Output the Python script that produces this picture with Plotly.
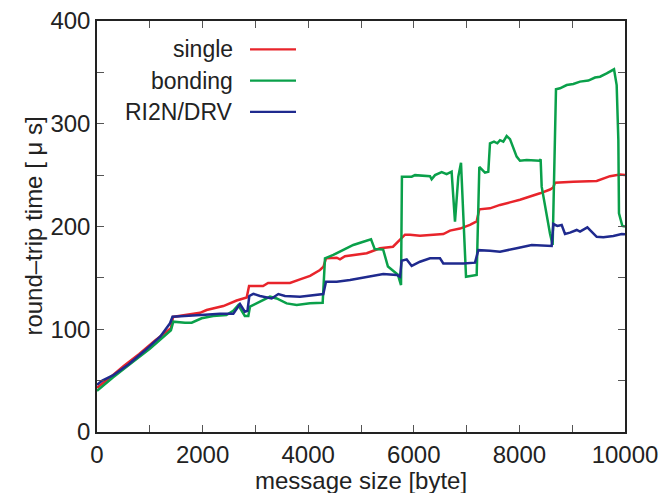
import plotly.graph_objects as go

# ---- data ----
single_x = [0, 200, 500, 800, 1100, 1400, 1440, 1700, 1950, 2076, 2392, 2645, 2835, 2880,
            3145, 3240, 3655, 3845, 4035, 4223, 4290, 4337, 4540, 4602, 4697, 5108, 5360,
            5606, 5739, 5833, 5928, 6117, 6559, 6686, 6875, 7064, 7191, 7241, 7443, 7633,
            7822, 8011, 8390, 8580, 8640, 8674, 9021, 9464, 9716, 9905, 10000]
single_y = [43, 51, 64, 76, 89, 101, 112, 114, 116, 118.7, 122.6, 128, 131, 142,
            142, 145, 145, 148.6, 152, 157.7, 161, 169, 169.6, 168, 171, 174, 178.8,
            180.3, 187, 192, 192, 191, 192.7, 196, 198, 201.5, 205, 216.7, 217.7, 221,
            223.5, 226, 232.3, 236, 238, 242.6, 243.6, 244.3, 249, 250.5, 250]

bonding_x = [0, 300, 700, 1000, 1400, 1445, 1667, 1793, 1982, 2200, 2450, 2580, 2675, 2800,
             2866, 2898, 3087, 3277, 3403, 3592, 3782, 4034, 4274, 4318, 4475, 4665, 4854,
             5044, 5190, 5260, 5420, 5510, 5640, 5700, 5758, 5775, 5801, 5960, 6023, 6307,
             6338, 6402, 6528, 6622, 6716, 6780, 6843, 6894, 6989, 7191, 7241, 7348, 7411,
             7443, 7519, 7582, 7633, 7695, 7759, 7822, 7948, 8011, 8138, 8377, 8402, 8422,
             8580, 8630, 8693, 8769, 8896, 9021, 9148, 9306, 9432, 9527, 9653, 9792, 9842,
             9874, 9886, 9950, 10000]
bonding_y = [40, 53, 69, 81, 99, 107.4, 106.4, 106.4, 110.7, 112.9, 113.9, 118, 123.6, 112.9,
             112.9, 122, 126.8, 131.7, 130, 125.2, 123.6, 125.2, 125.8, 169, 172.3, 177, 182,
             185.2, 187.5, 178, 177.5, 161, 156, 153, 143, 248.5, 248.5, 248.5, 250, 249,
             246, 250, 253, 251, 253.3, 204.7, 248.5, 262, 151, 152.8, 258, 252.4, 253.3,
             281, 282.6, 281, 284, 282.6, 288, 285, 268, 264, 264.7, 264, 265.4, 238.8,
             193, 182, 333.5, 334.5, 337.7, 338.7, 341, 342, 345, 345.8, 349, 353, 337.7,
             284, 212.8, 200.5, 200]

ri2n_x = [0, 100, 300, 600, 900, 1200, 1383, 1430, 2045, 2330, 2582, 2708, 2800, 2850, 2885,
          2960, 3087, 3308, 3434, 3560, 3845, 4097, 4286, 4337, 4540, 4792, 4981, 5233, 5422,
          5676, 5739, 5770, 5865, 5960, 6117, 6307, 6496, 6559, 6938, 7159, 7222, 7443, 7633,
          7948, 8233, 8611, 8643, 8718, 8801, 8864, 8958, 9085, 9148, 9287, 9464, 9590, 9779,
          9937, 10000]
ri2n_y = [46, 50, 55, 66, 79, 93, 105.8, 112.2, 114, 115, 115, 124.5, 117, 118, 132.4,
          134.5, 132.4, 130, 134.3, 132.4, 131.7, 133.3, 134.3, 146.3, 146.3, 148, 149.6, 151.8, 153.8,
          152.8, 151, 166.7, 168, 161.6, 165.7, 169, 169, 164, 164, 164.8, 177, 176.5, 175.5,
          178.8, 182, 181, 202.4, 200.5, 201.5, 192.7, 194, 196.6, 195, 199.2, 190, 189.5, 190.8,
          192.7, 192.5]

series_names = ["single", "bonding", "RI2N/DRV"]
series_colors = ["#e8242b", "#0aa04a", "#1f2a8e"]
series_x = [single_x, bonding_x, ri2n_x]
series_y = [single_y, bonding_y, ri2n_y]

x_tickvals = list(range(0, 10001, 1000))
x_ticktext = [str(v) if v % 2000 == 0 else "" for v in x_tickvals]
y_tickvals = list(range(0, 401, 50))
y_ticktext = [str(v) if v % 100 == 0 else "" for v in y_tickvals]

FONT = "Liberation Sans, Arial, sans-serif"

fig = go.Figure()
for name, col, xs, ys in zip(series_names, series_colors, series_x, series_y):
    fig.add_trace(go.Scatter(x=xs, y=ys, mode="lines", name=name, showlegend=False,
                             line=dict(color=col, width=2.5)))

# custom legend: text on the left, line sample on the right
legend_rows_y = [0.931, 0.855, 0.779]
for name, col, yy in zip(series_names, series_colors, legend_rows_y):
    fig.add_shape(type="line", xref="paper", yref="paper", x0=0.2898, x1=0.3769,
                  y0=yy, y1=yy, line=dict(color=col, width=2.2))
    fig.add_annotation(xref="paper", yref="paper", x=0.262, y=yy, text=name,
                       showarrow=False, xanchor="right", yanchor="middle",
                       font=dict(family=FONT, size=23, color="#222"))

axis_common = dict(showline=True, linecolor="#222", linewidth=1.5, mirror="ticks",
                   ticks="inside", ticklen=7, tickcolor="#555", tickwidth=1.2,
                   showgrid=False, zeroline=False, automargin=False,
                   tickfont=dict(family=FONT, size=24, color="#222"))

fig.update_xaxes(range=[0, 10000], tickmode="array", tickvals=x_tickvals,
                 ticktext=x_ticktext, **axis_common)
fig.update_yaxes(range=[0, 400], tickmode="array", tickvals=y_tickvals,
                 ticktext=y_ticktext, **axis_common)

fig.add_annotation(xref="paper", yref="paper", x=0.5, y=-0.117, text="message size [byte]",
                   showarrow=False, xanchor="center", yanchor="middle",
                   font=dict(family=FONT, size=24, color="#222"))
fig.add_annotation(xref="paper", yref="paper", x=-0.121, y=0.5, text="round–trip time [ μ s]",
                   showarrow=False, xanchor="center", yanchor="middle", textangle=-90,
                   font=dict(family=FONT, size=24, color="#222"))

fig.update_layout(width=661, height=493, margin=dict(l=97, r=36, t=21, b=61),
                  paper_bgcolor="white", plot_bgcolor="white")

fig.write_html("out.html")
